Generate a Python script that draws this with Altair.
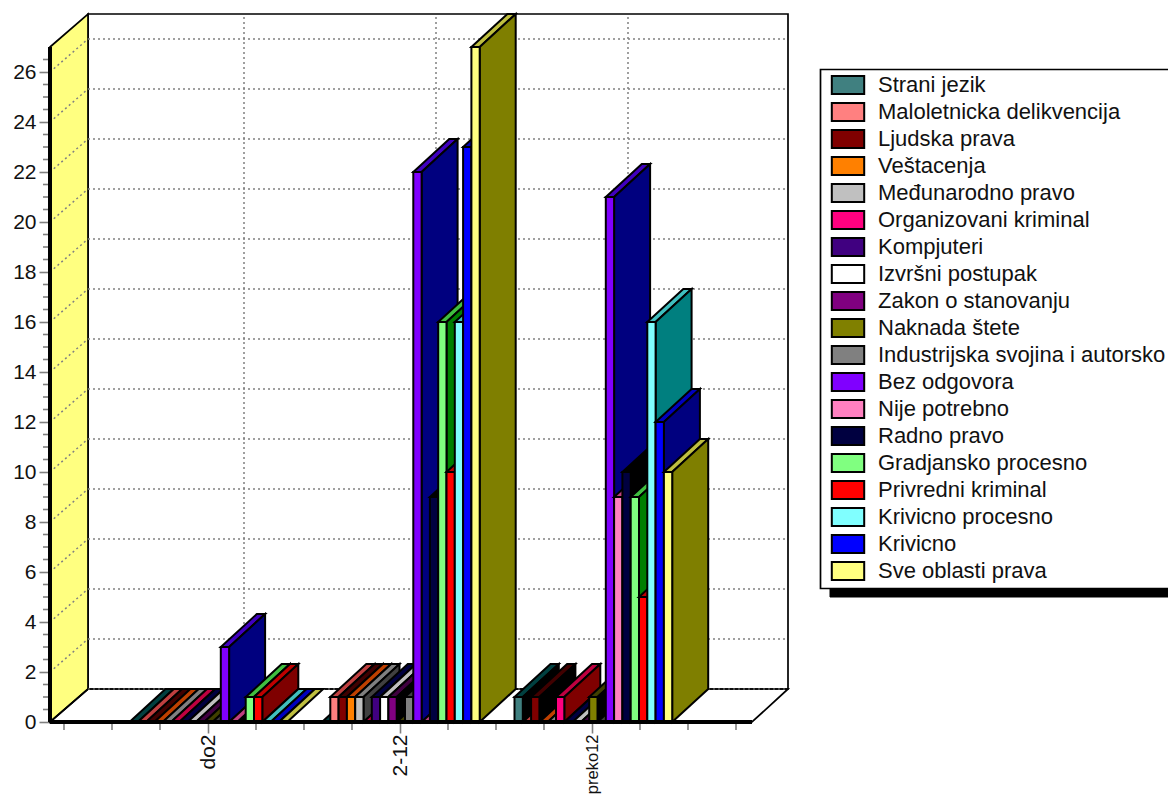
import altair as alt
import pandas as pd

series_names = ["Strani jezik", "Maloletnicka delikvencija", "Ljudska prava", "Veštacenja",
                "Međunarodno pravo", "Organizovani kriminal", "Kompjuteri", "Izvršni postupak",
                "Zakon o stanovanju", "Naknada štete", "Industrijska svojina i autorsko",
                "Bez odgovora", "Nije potrebno", "Radno pravo", "Gradjansko procesno",
                "Privredni kriminal", "Krivicno procesno", "Krivicno", "Sve oblasti prava"]
front_colors = ["#408080", "#FF8080", "#800000", "#FF8000", "#C0C0C0", "#FF0080", "#400080",
                "#FFFFFF", "#800080", "#808000", "#808080", "#8000FF", "#FF80C0", "#000040",
                "#80FF80", "#FF0000", "#80FFFF", "#0000FF", "#FFFF80"]
categories = ["do2", "2-12", "preko12"]
values_do2 = [0, 0, 0, 0, 0, 0, 0, 0, 0, 0, 0, 3, 0, 0, 1, 1, 0, 0, 0]
values_2_12 = [0, 1, 1, 1, 1, 0, 1, 1, 1, 0, 1, 22, 0, 9, 16, 10, 16, 23, 27]
values_preko12 = [1, 0, 1, 0, 0, 1, 0, 0, 0, 1, 0, 21, 9, 10, 9, 5, 16, 12, 10]
group_values = [values_do2, values_2_12, values_preko12]

WIDTH, HEIGHT = 738, 708
PX_PER_UNIT = 25.0
Y_MAX = HEIGHT / PX_PER_UNIT
WALL_DX, BAR_DX = 38, 36
DY = 33 / PX_PER_UNIT
SLOT = 8.3
BAR_W = 8.3
GROUP_START = [79.5, 272, 464.5]
GROUP_TICK = [158, 350, 542]
FLOOR_END = 702
STROKE = 2


def shade(color, amount):
    rgb = [int(color[i:i + 2], 16) for i in (1, 3, 5)]
    return "#" + "".join(f"{max(c - amount, 0):02X}" for c in rgb)


xs = alt.Scale(domain=[0, WIDTH], nice=False, zero=False)
ys = alt.Scale(domain=[0, Y_MAX], nice=False, zero=False)

label_map = ", ".join(f"'{v}': '{c}'" for v, c in zip(GROUP_TICK, categories))
x_axis = alt.Axis(values=GROUP_TICK, labelExpr="{" + label_map + "}[datum.value]", labelAngle=270,
                  labelAlign="right", labelBaseline="middle", labelFont="Liberation Sans",
                  labelFontSize=alt.condition(f"datum.value == {GROUP_TICK[2]}", alt.value(16.5), alt.value(21)),
                  labelColor="#111111", labelPadding=1, tickSize=11, tickColor="#808080",
                  tickWidth=1.6, domain=False, grid=False, labelOverlap=False, labelBound=False, labelFlush=False)
y_axis = alt.Axis(values=list(range(0, 27, 2)), labelFont="Liberation Sans", labelFontSize=21,
                  labelColor="#111111", labelPadding=3, tickSize=11, tickColor="#808080", tickWidth=1.6,
                  domain=False, grid=False, labelOverlap=False, labelBound=False, labelFlush=False)


def X(field="x"):
    return alt.X(f"{field}:Q", scale=xs, axis=x_axis, title=None)


def Y(field="y"):
    return alt.Y(f"{field}:Q", scale=ys, axis=y_axis, title=None, stack=None)


layers = []

# legend panel and its shadow
panel = pd.DataFrame({"k": [0]})
layers.append(alt.Chart(panel).mark_rect(fill="black", stroke="black").encode(
    x=alt.value(780), x2=alt.value(1160), y=alt.value(70), y2=alt.value(583)))
layers.append(alt.Chart(panel).mark_rect(fill="white", stroke="black", strokeWidth=1.7).encode(
    x=alt.value(770.5), x2=alt.value(1160), y=alt.value(55.5), y2=alt.value(574.5)))

# back wall
wall = pd.DataFrame({"x": [WALL_DX], "x2": [WIDTH], "y": [DY], "y2": [Y_MAX]})
layers.append(alt.Chart(wall).mark_rect(fill="white", stroke="black", strokeWidth=1.7).encode(
    x=X(), x2="x2:Q", y=Y(), y2="y2:Q"))

# left wall
left = pd.DataFrame({"x": [0, WALL_DX], "y": [27, 27 + DY], "y2": [0, DY]})
layers.append(alt.Chart(left).mark_area(fill="#FFFF80", stroke="black", strokeWidth=1.7, opacity=1).encode(
    x=X(), y=Y(), y2="y2:Q"))

# floor outline
floor = pd.DataFrame({"x": [0, FLOOR_END, WIDTH, WALL_DX, 0],
                      "y": [0, 0, DY, DY, 0], "o": range(5)})
layers.append(alt.Chart(floor).mark_line(stroke="black", strokeWidth=1.7).encode(
    x=X(), y=Y(), order="o:Q"))

# dotted grid
grid_dash = [2, 3]
grid_vals = list(range(2, 27, 2))
grid_h = pd.DataFrame({"x": WALL_DX, "x2": WIDTH, "y": [v + DY for v in grid_vals]})
layers.append(alt.Chart(grid_h).mark_rule(stroke="#808080", strokeWidth=1.5, strokeDash=grid_dash).encode(
    x=X(), x2="x2:Q", y=Y()))
grid_d = pd.DataFrame({"x": 0, "x2": WALL_DX, "y": grid_vals, "y2": [v + DY for v in grid_vals]})
layers.append(alt.Chart(grid_d).mark_rule(stroke="#808080", strokeWidth=1.5, strokeDash=grid_dash).encode(
    x=X(), x2="x2:Q", y=Y(), y2="y2:Q"))
grid_v = pd.DataFrame({"x": [t + BAR_DX for t in GROUP_TICK], "y": DY, "y2": Y_MAX})
layers.append(alt.Chart(grid_v).mark_rule(stroke="#808080", strokeWidth=1.5, strokeDash=grid_dash).encode(
    x=X(), y=Y(), y2="y2:Q"))
floor_dots = pd.DataFrame({"x": WALL_DX, "x2": WIDTH, "y": [DY]})
layers.append(alt.Chart(floor_dots).mark_rule(stroke="#808080", strokeWidth=1.2, strokeDash=grid_dash).encode(
    x=X(), x2="x2:Q", y=Y()))

# minor ticks
minor_y = pd.DataFrame({"y": [k / 2 for k in range(0, 54) if k % 4 != 0]})
layers.append(alt.Chart(minor_y).mark_rule(stroke="#808080", strokeWidth=1.6).encode(
    x=alt.value(-7), x2=alt.value(0), y=Y()))
minor_x = pd.DataFrame({"x": [14 + 48 * k for k in range(15) if 14 + 48 * k not in GROUP_TICK]})
layers.append(alt.Chart(minor_x).mark_rule(stroke="#808080", strokeWidth=1.6).encode(
    x=X(), y=alt.value(HEIGHT), y2=alt.value(HEIGHT + 8)))

legend = alt.Legend(orient="none", legendX=787, legendY=60, title=None,
                    symbolType="M-1.8,-1H1.8V1H-1.8Z", symbolSize=324, symbolStrokeColor="black",
                    symbolStrokeWidth=2, symbolOpacity=1, labelFont="Liberation Sans", labelFontSize=22,
                    labelColor="#111111", labelOffset=19, rowPadding=1, labelLimit=400, padding=0,
                    symbolLimit=30, columns=1)
color = alt.Color("series:N", scale=alt.Scale(domain=series_names, range=front_colors), legend=legend)

# bars, painted series by series
for i, (name, col) in enumerate(zip(series_names, front_colors)):
    rows = [{"series": name, "x": GROUP_START[g] + i * SLOT, "v": group_values[g][i]} for g in range(3)]
    bars = pd.DataFrame(rows)
    bars["x2"] = bars["x"] + BAR_W
    nonzero = bars[bars["v"] > 0]

    tops = []
    for r, row in bars.iterrows():
        tops.append({"g": r, "x": row["x"], "x2": row["x2"], "y": row["v"]})
        tops.append({"g": r, "x": row["x"] + BAR_DX, "x2": row["x2"] + BAR_DX, "y": row["v"] + DY})
    layers.append(alt.Chart(pd.DataFrame(tops)).mark_area(
        orient="horizontal", fill=shade(col, 64), stroke="black", strokeWidth=STROKE, opacity=1
    ).encode(x=X(), x2="x2:Q", y=Y(), detail="g:N"))

    sides = []
    for r, row in nonzero.iterrows():
        sides.append({"g": r, "x": row["x2"], "y": row["v"], "y2": 0})
        sides.append({"g": r, "x": row["x2"] + BAR_DX, "y": row["v"] + DY, "y2": DY})
    if sides:
        layers.append(alt.Chart(pd.DataFrame(sides)).mark_area(
            fill=shade(col, 128), stroke="black", strokeWidth=STROKE, opacity=1
        ).encode(x=X(), y=Y(), y2="y2:Q", detail="g:N"))

    layers.append(alt.Chart(nonzero.assign(y0=0)).mark_rect(stroke="black", strokeWidth=STROKE, opacity=1).encode(
        x=X(), x2="x2:Q", y=Y("v"), y2="y0:Q", color=color))

# front baseline and left edge
base = pd.DataFrame({"x": [0], "x2": [FLOOR_END], "y": [0]})
layers.append(alt.Chart(base).mark_rule(stroke="black", strokeWidth=4).encode(
    x=X(), x2="x2:Q", y=Y()))
edge = pd.DataFrame({"x": [0], "y": [0], "y2": [27]})
layers.append(alt.Chart(edge).mark_rule(stroke="black", strokeWidth=4).encode(
    x=X(), y=Y(), y2="y2:Q"))

chart = alt.layer(*layers).properties(
    width=WIDTH, height=HEIGHT, autosize=alt.AutoSizeParams(type="none"),
    padding={"left": 42, "top": 6, "right": 380, "bottom": 74},
).configure_view(stroke=None)

chart.save("out.html", embed_options={"renderer": "svg", "actions": False})
